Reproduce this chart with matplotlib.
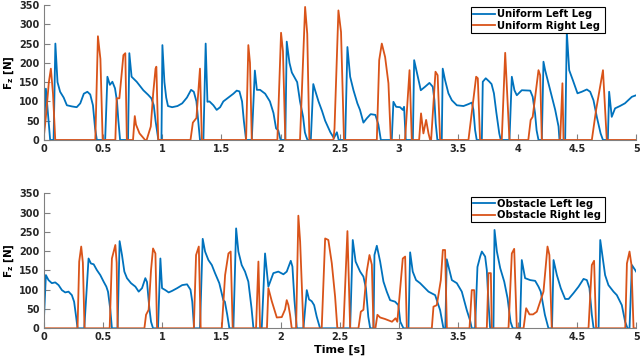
import numpy as np
import matplotlib
matplotlib.use("Agg")
import matplotlib.pyplot as plt

# ---- data (time [s], Fz [N]) ----
uniform_left = [
    (0, 0), (0.02, 133), (0.056, 0), (0.085, 0), (0.10, 250), (0.118, 150), (0.14, 125), (0.17, 110),
    (0.197, 90), (0.24, 87), (0.28, 85), (0.31, 95), (0.34, 120), (0.37, 125), (0.394, 118), (0.417, 90),
    (0.435, 30), (0.45, 0),
    (0.52, 0), (0.539, 164), (0.56, 143), (0.581, 151), (0.603, 134), (0.62, 100), (0.631, 52), (0.646, 0),
    (0.713, 0), (0.724, 225), (0.743, 164), (0.786, 151), (0.842, 129), (0.883, 117), (0.91, 108),
    (0.93, 90), (0.945, 50), (0.969, 0),
    (0.995, 0), (1.003, 246), (1.02, 150), (1.035, 110), (1.05, 88), (1.085, 85), (1.13, 88), (1.17, 95),
    (1.21, 110), (1.245, 130), (1.268, 125), (1.29, 100), (1.305, 50), (1.32, 0),
    (1.349, 0), (1.368, 250), (1.383, 99), (1.40, 100), (1.433, 90), (1.461, 78), (1.49, 85), (1.517, 100),
    (1.56, 110), (1.602, 120), (1.63, 128), (1.653, 126), (1.675, 100), (1.69, 50), (1.709, 0),
    (1.757, 0), (1.783, 180), (1.80, 130), (1.827, 130), (1.87, 120), (1.91, 100), (1.94, 70),
    (1.962, 30), (1.98, 25), (2.0, 0),
    (2.04, 0), (2.052, 255), (2.075, 200), (2.095, 175), (2.122, 160), (2.14, 150), (2.164, 100),
    (2.19, 60), (2.205, 20), (2.215, 10), (2.227, 0),
    (2.255, 0), (2.276, 145), (2.29, 130), (2.32, 100), (2.35, 75), (2.376, 50), (2.42, 20),
    (2.45, 5), (2.475, 20), (2.49, 0),
    (2.545, 0), (2.564, 241), (2.587, 164), (2.615, 129), (2.648, 95), (2.67, 78), (2.699, 45),
    (2.727, 56), (2.76, 67), (2.80, 65), (2.825, 40), (2.846, 0),
    (2.938, 0), (2.952, 99), (2.975, 86), (3.008, 85), (3.031, 78), (3.042, 86), (3.056, 0),
    (3.116, 0), (3.127, 207), (3.164, 155), (3.183, 129), (3.219, 138), (3.256, 148), (3.284, 138),
    (3.298, 103), (3.309, 43), (3.323, 0),
    (3.36, 0), (3.368, 185), (3.388, 155), (3.416, 121), (3.445, 103), (3.487, 90), (3.543, 88),
    (3.585, 93), (3.614, 97), (3.627, 78), (3.641, 26), (3.655, 0),
    (3.698, 0), (3.706, 151), (3.731, 160), (3.759, 152), (3.78, 145), (3.80, 121), (3.82, 72),
    (3.845, 17), (3.858, 0),
    (3.931, 0), (3.951, 164), (3.973, 129), (3.993, 116), (4.035, 129), (4.106, 128), (4.127, 112),
    (4.147, 69), (4.16, 25), (4.176, 0),
    (4.204, 0), (4.218, 203), (4.232, 181), (4.26, 147), (4.289, 112), (4.317, 78), (4.345, 35), (4.353, 0),
    (4.401, 0), (4.415, 280), (4.435, 181), (4.466, 155), (4.505, 121), (4.541, 125), (4.584, 131),
    (4.612, 125), (4.64, 103), (4.668, 60), (4.70, 17), (4.72, 0),
    (4.761, 0), (4.772, 125), (4.794, 60), (4.822, 82), (4.863, 88), (4.905, 95), (4.964, 112), (5.0, 116),
]

uniform_right = [
    (0, 0), (0.02, 60), (0.045, 150), (0.062, 185), (0.08, 120), (0.099, 0),
    (0.437, 0), (0.459, 269), (0.48, 210), (0.499, 0),
    (0.606, 0), (0.617, 108), (0.64, 108), (0.674, 220), (0.69, 225), (0.703, 0),
    (0.755, 0), (0.77, 62), (0.78, 40), (0.81, 17), (0.835, 8), (0.857, 0), (0.87, 0), (0.89, 20),
    (0.905, 35), (0.925, 120), (0.945, 185), (0.952, 190), (0.968, 0),
    (1.24, 0), (1.26, 45), (1.29, 57), (1.32, 185), (1.336, 0),
    (1.709, 0), (1.728, 246), (1.742, 200), (1.757, 0),
    (1.973, 0), (2.004, 278), (2.02, 230), (2.04, 0),
    (2.164, 0), (2.207, 345), (2.225, 275), (2.243, 0),
    (2.446, 0), (2.455, 30), (2.488, 336), (2.51, 280), (2.535, 0),
    (2.812, 0), (2.832, 207), (2.854, 250), (2.882, 215), (2.91, 147), (2.93, 0),
    (3.05, 0), (3.088, 181), (3.107, 0),
    (3.169, 0), (3.185, 69), (3.205, 17), (3.228, 52), (3.248, 17), (3.262, 0), (3.27, 0),
    (3.307, 177), (3.325, 168), (3.346, 0),
    (3.585, 0), (3.65, 164), (3.664, 160), (3.683, 0),
    (3.866, 0), (3.895, 226), (3.931, 0),
    (4.09, 0), (4.11, 52), (4.127, 60), (4.176, 181), (4.19, 168), (4.204, 0),
    (4.359, 0), (4.378, 147), (4.387, 0),
    (4.626, 0), (4.662, 78), (4.72, 181), (4.752, 0),
    (5.0, 0),
]

obstacle_left = [
    (0, 0), (0.02, 138), (0.042, 125), (0.07, 117), (0.099, 119), (0.127, 112), (0.155, 99),
    (0.183, 93), (0.211, 95), (0.239, 86), (0.258, 69), (0.275, 30), (0.287, 0),
    (0.344, 0), (0.38, 181), (0.40, 168), (0.423, 166), (0.45, 151), (0.479, 138), (0.507, 121),
    (0.53, 108), (0.544, 95), (0.563, 50), (0.577, 0),
    (0.625, 0), (0.642, 226), (0.662, 190), (0.682, 147), (0.704, 130), (0.738, 117), (0.775, 108),
    (0.803, 95), (0.831, 104), (0.859, 130), (0.873, 120), (0.893, 52), (0.907, 17), (0.924, 0),
    (0.966, 0), (0.986, 181), (1.0, 104), (1.028, 99), (1.056, 93), (1.085, 97), (1.127, 104),
    (1.17, 112), (1.211, 114), (1.24, 100), (1.255, 69), (1.27, 0),
    (1.32, 0), (1.343, 232), (1.363, 199), (1.391, 177), (1.42, 164), (1.447, 143), (1.483, 117),
    (1.517, 73), (1.53, 69), (1.55, 35), (1.568, 0),
    (1.602, 0), (1.625, 259), (1.644, 199), (1.672, 164), (1.70, 147), (1.728, 121), (1.755, 52), (1.771, 0),
    (1.841, 0), (1.869, 194), (1.897, 108), (1.939, 143), (1.981, 147), (2.024, 140), (2.052, 147),
    (2.086, 175), (2.10, 160), (2.117, 73), (2.137, 0),
    (2.193, 0), (2.221, 99), (2.24, 75), (2.263, 70), (2.283, 60), (2.305, 30), (2.333, 0),
    (2.587, 0), (2.609, 229), (2.633, 173), (2.671, 147), (2.699, 134), (2.72, 104), (2.74, 30), (2.756, 0),
    (2.784, 0), (2.792, 190), (2.812, 214), (2.84, 173), (2.868, 121), (2.896, 95), (2.924, 73),
    (2.966, 69), (2.994, 60), (3.01, 17), (3.037, 0),
    (3.079, 0), (3.093, 197), (3.115, 147), (3.143, 125), (3.177, 117), (3.248, 95), (3.304, 86),
    (3.346, 47), (3.374, 0),
    (3.39, 0), (3.402, 179), (3.445, 125), (3.487, 117), (3.529, 95), (3.571, 47), (3.599, 20), (3.613, 0),
    (3.641, 0), (3.661, 159), (3.684, 186), (3.698, 199), (3.726, 186), (3.74, 151), (3.755, 60), (3.768, 0),
    (3.796, 0), (3.805, 255), (3.825, 199), (3.853, 156), (3.887, 121), (3.915, 78), (3.94, 17), (3.959, 0),
    (4.02, 0), (4.035, 177), (4.063, 130), (4.106, 125), (4.148, 123), (4.176, 108), (4.195, 95),
    (4.23, 35), (4.26, 0),
    (4.29, 0), (4.303, 177), (4.331, 138), (4.364, 104), (4.401, 76), (4.43, 76), (4.471, 91),
    (4.514, 108), (4.556, 128), (4.584, 125), (4.606, 104), (4.626, 35), (4.641, 0),
    (4.683, 0), (4.697, 229), (4.72, 177), (4.738, 138), (4.766, 112), (4.809, 95), (4.837, 86),
    (4.879, 60), (4.907, 17), (4.927, 0),
    (4.944, 0), (4.964, 164), (5.0, 147),
]

obstacle_right = [
    (0, 0), (0.287, 0), (0.301, 173), (0.318, 212), (0.332, 170), (0.346, 0),
    (0.558, 0), (0.577, 181), (0.606, 216), (0.617, 170), (0.625, 0),
    (0.851, 0), (0.865, 35), (0.887, 48), (0.907, 151), (0.924, 207), (0.944, 194), (0.958, 0),
    (1.268, 0), (1.287, 190), (1.31, 212), (1.326, 0),
    (1.504, 0), (1.532, 138), (1.56, 194), (1.579, 199), (1.596, 0),
    (1.793, 0), (1.813, 173), (1.827, 0),
    (1.885, 0), (1.897, 104), (1.926, 70), (1.968, 28), (2.01, 29), (2.038, 49), (2.052, 73),
    (2.066, 60), (2.08, 35), (2.094, 0),
    (2.131, 0), (2.15, 292), (2.165, 225), (2.193, 0),
    (2.347, 0), (2.376, 233), (2.403, 229), (2.432, 169), (2.46, 82), (2.479, 0),
    (2.53, 0), (2.564, 252), (2.587, 0),
    (2.657, 0), (2.677, 43), (2.699, 48), (2.727, 147), (2.75, 190), (2.77, 165), (2.784, 0),
    (2.80, 0), (2.817, 35), (2.84, 28), (2.882, 24), (2.94, 17), (2.97, 26), (2.985, 17),
    (3.031, 181), (3.051, 186), (3.065, 0),
    (3.276, 0), (3.29, 56), (3.318, 60), (3.352, 125), (3.369, 203), (3.388, 203), (3.403, 0),
    (3.594, 0), (3.613, 99), (3.633, 99), (3.647, 0),
    (3.74, 0), (3.754, 143), (3.774, 143), (3.782, 0),
    (3.923, 0), (3.951, 194), (3.971, 206), (3.993, 0),
    (4.05, 0), (4.072, 52), (4.10, 36), (4.13, 36), (4.162, 43), (4.19, 69), (4.218, 95),
    (4.252, 212), (4.268, 190), (4.288, 0),
    (4.598, 0), (4.626, 164), (4.645, 175), (4.662, 0),
    (4.908, 0), (4.922, 168), (4.944, 199), (4.96, 165), (4.978, 0), (5.0, 0),
]

x_ticks = [0, 0.5, 1, 1.5, 2, 2.5, 3, 3.5, 4, 4.5, 5]
x_tick_labels = ["0", "0.5", "1", "1.5", "2", "2.5", "3", "3.5", "4", "4.5", "5"]
y_ticks = [0, 50, 100, 150, 200, 250, 300, 350]

blue = "#0072BD"
orange = "#D95319"

plt.rcParams['font.family'] = ['DejaVu Sans']
plt.rcParams['font.weight'] = 'bold'
plt.rcParams['font.size'] = 7

fig = plt.figure(figsize=(6.4, 3.58), dpi=100)
ax1 = fig.add_axes([0.068, 0.609, 0.926, 0.377])
ax2 = fig.add_axes([0.068, 0.083, 0.926, 0.377])


def draw(ax, left, right, names, leg_top):
    t1, f1 = np.array(left).T
    t2, f2 = np.array(right).T
    ax.plot(t1, f1, color=blue, lw=1.3, label=names[0])
    ax.plot(t2, f2, color=orange, lw=1.3, label=names[1])
    ax.set_xlim(0, 5)
    ax.set_ylim(0, 350)
    ax.set_xticks(x_ticks)
    ax.set_xticklabels(x_tick_labels)
    ax.set_yticks(y_ticks)
    for s in ['top', 'right']:
        ax.spines[s].set_visible(False)
    for s in ['left', 'bottom']:
        ax.spines[s].set_color('#808080')
        ax.spines[s].set_linewidth(0.8)
    ax.tick_params(direction='in', length=4, color='#808080', labelcolor='#262626')
    ax.tick_params(axis='y', pad=3)
    ax.tick_params(axis='x', pad=3)
    ax.set_ylabel(r'$\mathbf{F_z}$ [N]', fontweight='bold', labelpad=2, fontsize=7.5)
    # MATLAB-like legend box: fixed width, text left aligned
    leg = ax.legend(loc='upper left', bbox_to_anchor=(0.736, leg_top - 0.3, 0.209, 0.3),
                    bbox_transform=fig.transFigure, mode='expand', borderaxespad=0,
                    fancybox=False, framealpha=1, edgecolor='black',
                    borderpad=0.2, handlelength=2.2, handletextpad=0.2, labelspacing=0.15,
                    prop={'weight': 'bold', 'size': 7.2})
    leg.get_frame().set_linewidth(0.8)


draw(ax1, uniform_left, uniform_right, ["Uniform Left Leg", "Uniform Right Leg"], 0.98)
draw(ax2, obstacle_left, obstacle_right, ["Obstacle Left leg", "Obstacle Right leg"], 0.451)
ax2.set_xlabel("Time [s]", fontweight='bold', labelpad=2, fontsize=8)

fig.savefig("out.png", dpi=100)
